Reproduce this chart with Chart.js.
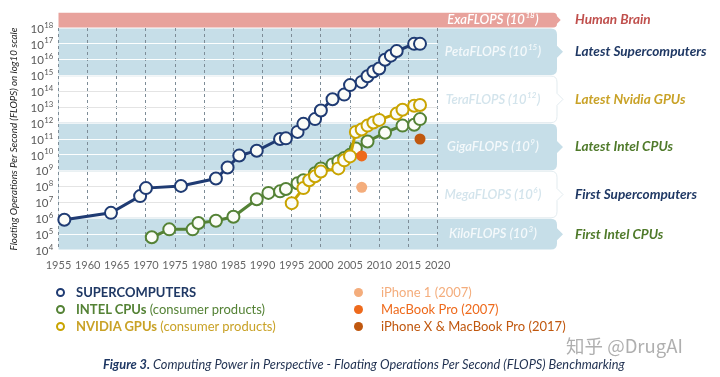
<!DOCTYPE html>
<html><head><meta charset="utf-8">
<script src="https://cdn.jsdelivr.net/npm/chart.js@4.4.0/dist/chart.umd.min.js"></script>
<style>
html,body{margin:0;padding:0;background:#fff;}
#wrap{position:relative;width:720px;height:377px;overflow:hidden;font-family:Lato,"Open Sans",sans-serif;}
canvas{position:absolute;left:0;top:0;}
.t{position:absolute;white-space:nowrap;font-size:13px;line-height:16px;}
.mk{position:absolute;width:5px;height:5px;border-radius:50%;border:2px solid;background:#fff;}
.dot{position:absolute;width:9px;height:9px;border-radius:50%;}
</style></head><body>
<div id="wrap">
<canvas id="c" width="720" height="377"></canvas>
<div id="legend"></div>
<div class="t" style="left:103px;top:356px;font-size:12.8px;font-style:italic;color:#1f3050;"><b style="color:#1f3864">Figure 3.</b> Computing Power in Perspective - Floating Operations Per Second (FLOPS) Benchmarking</div>
<div class="t" style="left:566px;top:333px;font-size:18.5px;line-height:24px;font-family:'Noto Sans CJK SC',sans-serif;color:rgba(110,110,110,0.55);">知乎 @DrugAI</div>
</div>
<script>
// ---- data ----
const superYears = [1956,1964,1969,1970,1976,1982,1984,1986,1989,1993,1994,1996,1997,1999,2000,2002,2004,2005,2007,2008,2009,2010,2011,2012,2013,2016,2017];
const superFlops = [8e5,2.2e6,2.5e7,8e7,1.1e8,3.2e8,1.6e9,9e9,1.8e10,1e11,1.1e11,2.8e11,9e11,1.8e12,6.3e12,3.2e13,6.3e13,2.5e14,4e14,9e14,1.8e15,2.8e15,1e16,1.8e16,3.5e16,1e17,1e17];
const intelYears = [1971,1974,1978,1979,1982,1985,1989,1991,1993,1994,1996,1997,1999,2000,2002,2003,2004,2005,2006,2008,2011,2014,2016,2017];
const intelFlops = [6.3e4,2e5,2e5,5e5,7e5,1.25e6,1.6e7,4e7,5e7,7e7,1.6e8,2.5e8,7e8,1.4e9,2.5e9,4e9,6.3e9,1e10,2.5e10,7e10,2.5e11,7e11,8e11,1.8e12];
const nvidiaYears = [1995,1997,1998,1999,2000,2003,2004,2005,2006,2007,2008,2009,2010,2013,2014,2016,2017];
const nvidiaFlops = [9e6,8e7,2.5e8,4.5e8,9e8,1.4e9,4.5e9,8e9,2.8e11,4e11,7e11,1.1e12,1.6e12,4e12,7e12,1.25e13,1.4e13];
const appleLabels = ['iPhone 1 (2007)','MacBook Pro (2007)','iPhone X & MacBook Pro (2017)'];
const appleYears = [2007,2007,2017];
const appleFlops = [9e7,8.5e9,1e11];
const xTicks = [1955,1960,1965,1970,1975,1980,1985,1990,1995,2000,2005,2010,2015,2020];
const yTickExponents = [4,5,6,7,8,9,10,11,12,13,14,15,16,17,18];
const bandNames = ['ExaFLOPS','PetaFLOPS','TeraFLOPS','GigaFLOPS','MegaFLOPS','KiloFLOPS'];
const bandExponents = [18,15,12,9,6,3];
const bandTopExp = [19,18,15,12,9,6];
const bandBottomExp = [18,15,12,9,6,4];
const rightLabels = ['Human Brain','Latest Supercomputers','Latest Nvidia GPUs','Latest Intel CPUs','First Supercomputers','First Intel CPUs'];
const seriesNames = ['SUPERCOMPUTERS','INTEL CPUs','NVIDIA GPUs'];

// ---- styles ----
const C_SUPER='#1f3b73', C_INTEL='#548235', C_NVIDIA='#c9a400';
const appleColors=['#f4ad7c','#ee6a1c','#c0580f'];
const bandFill=['#e8a29c','#c6dee8','#ffffff','#c6dee8','#ffffff','#c6dee8'];
const bandText=['#ffffff','#f4f9fb','#d3e4ec','#f4f9fb','#d3e4ec','#f4f9fb'];
const rightColors=['#c0504d','#1f3864','#c9a227','#4f7a2a','#1f3864','#4f7a2a'];

// legend html
(function(){
  const lg=document.getElementById('legend');
  const rows=[[seriesNames[0],'',C_SUPER,'#1f3864'],[seriesNames[1],' (consumer products)',C_INTEL,'#548235'],[seriesNames[2],' (consumer products)',C_NVIDIA,'#c9a227']];
  const ys=[292,309,326];
  rows.forEach((r,i)=>{
    lg.insertAdjacentHTML('beforeend',`<div class="mk" style="left:56px;top:${ys[i]-4.5}px;border-color:${r[2]}"></div><div class="t" style="left:76px;top:${ys[i]-8}px;color:${r[3]}"><b>${r[0]}</b>${r[1]}</div>`);
  });
  appleLabels.forEach((l,i)=>{
    lg.insertAdjacentHTML('beforeend',`<div class="dot" style="left:354px;top:${ys[i]-4.5}px;background:${appleColors[i]}"></div><div class="t" style="left:381px;top:${ys[i]-8}px;color:${appleColors[i]}">${l.replace('&','&amp;')}</div>`);
  });
})();

function supText(ctx,base,exp,tail,x,y,size,align){
  ctx.font=`italic 600 ${size}px Lato`;
  const w1=ctx.measureText(base).width;
  const w3=ctx.measureText(tail).width;
  ctx.font=`italic 600 ${size*0.62}px Lato`;
  const w2=ctx.measureText(exp).width;
  const tot=w1+w2+w3+1;
  let sx = align==='center'? x-tot/2 : (align==='right'? x-tot : x);
  ctx.textAlign='left';ctx.textBaseline='middle';
  ctx.font=`italic 600 ${size}px Lato`;
  ctx.fillText(base,sx,y);
  ctx.font=`italic 600 ${size*0.62}px Lato`;
  ctx.fillText(exp,sx+w1+0.5,y-size*0.33);
  ctx.font=`italic 600 ${size}px Lato`;
  ctx.fillText(tail,sx+w1+w2+1,y);
}

function bandPath(ctx,l,t,b,R){
  const h=b-t, r=Math.min(6,h/4), tip=Math.min(6,h/2-r);
  const m=(t+b)/2;
  ctx.beginPath();
  ctx.moveTo(l,b);
  ctx.lineTo(l,t);
  ctx.lineTo(R-r,t);
  ctx.quadraticCurveTo(R,t,R,t+r);
  ctx.lineTo(R,m-tip);
  ctx.lineTo(R+tip,m);
  ctx.lineTo(R,m+tip);
  ctx.lineTo(R,b-r);
  ctx.quadraticCurveTo(R,b,R-r,b);
  ctx.lineTo(l,b);
}

const decor={
  id:'decor',
  beforeDraw(chart){
    const {ctx,chartArea:a,scales:{y}}=chart;
    const R=557;
    ctx.save();
    for(let i=0;i<bandNames.length;i++){
      const t=y.getPixelForValue(Math.pow(10,bandTopExp[i]))+0.5;
      const b=y.getPixelForValue(Math.pow(10,bandBottomExp[i]))-0.5;
      bandPath(ctx,a.left,t,b,R);
      ctx.fillStyle=bandFill[i];ctx.fill();
      if(bandFill[i]==='#ffffff'){ctx.strokeStyle='#e2ebef';ctx.lineWidth=1;ctx.stroke();}
      const m=(t+b)/2;
      ctx.fillStyle=bandText[i];
      supText(ctx,bandNames[i]+' (10',String(bandExponents[i]),')',493,m,13,'center');
      ctx.fillStyle=rightColors[i];
      ctx.font='italic bold 13.6px Lato';ctx.textAlign='left';ctx.textBaseline='middle';
      ctx.fillText(rightLabels[i],575,m);
    }
    ctx.restore();
  },
  afterDraw(chart){
    const {ctx,scales:{y}}=chart;
    ctx.save();
    ctx.fillStyle='#595959';
    yTickExponents.forEach(e=>{
      const py=y.getPixelForValue(Math.pow(10,e));
      const e1=String(e);
      ctx.font='7.8px Lato';const w2=ctx.measureText(e1).width;
      ctx.font='11.5px Lato';const w1=ctx.measureText('10').width;
      const sx=53-w1-w2;
      ctx.textAlign='left';ctx.textBaseline='middle';
      ctx.fillText('10',sx,py+1);
      ctx.font='7.8px Lato';
      ctx.fillText(e1,sx+w1+0.3,py-3);
    });
    ctx.translate(14,139);ctx.rotate(-Math.PI/2);
    ctx.font='italic 9.8px Lato';ctx.fillStyle='#222';ctx.textAlign='center';ctx.textBaseline='middle';
    ctx.fillText('Floating Operations Per Second (FLOPS) on log10 scale',0,0);
    ctx.restore();
  }
};

const pts=(xs,ys)=>xs.map((x,i)=>({x:x,y:ys[i]}));
const lineDs=(label,xs,ys,col)=>({type:'line',label,data:pts(xs,ys),borderColor:col,borderWidth:3,pointRadius:6,pointBorderWidth:2,pointBorderColor:col,pointBackgroundColor:'#fbfcf8',tension:0,clip:false});
const appleDs=appleLabels.map((l,i)=>({type:'line',label:l,data:[{x:appleYears[i],y:appleFlops[i]}],showLine:false,pointRadius:5.5,pointBorderWidth:0,pointBackgroundColor:appleColors[i],order:-1}));

new Chart(document.getElementById('c'),{
  data:{datasets:[lineDs(seriesNames[0],superYears,superFlops,C_SUPER),lineDs(seriesNames[2],nvidiaYears,nvidiaFlops,C_NVIDIA),lineDs(seriesNames[1],intelYears,intelFlops,C_INTEL),...appleDs]},
  options:{
    responsive:false,animation:false,events:[],
    layout:{padding:{left:0,right:282.5,top:28,bottom:107}},
    plugins:{legend:{display:false},tooltip:{enabled:false}},
    scales:{
      x:{type:'linear',min:1955,max:2020,
        afterBuildTicks:s=>{s.ticks=xTicks.map(v=>({value:v}));},
        afterFit:s=>{s.height=20;},
        ticks:{callback:v=>String(v),color:'#666',font:{family:'Lato',size:11},padding:9,maxRotation:0,autoSkip:false},
        grid:{color:'#7d8c97',lineWidth:1,drawTicks:false},
        border:{display:false,dash:[3,3]}},
      y:{type:'logarithmic',min:1e4,max:1e18,
        afterBuildTicks:s=>{s.ticks=yTickExponents.map(e=>({value:Math.pow(10,e)}));},
        afterFit:s=>{s.width=58.5;},
        ticks:{display:false},
        grid:{drawTicks:false,lineWidth:1,color:c=>{const v=c.tick&&c.tick.value;const e=Math.round(Math.log10(v));if([5,10,11,16,17].includes(e))return 'rgba(255,255,255,0.95)';if([7,8,13,14].includes(e))return '#e4e4e4';return 'rgba(0,0,0,0)';}},
        border:{display:false}}
    }
  },
  plugins:[decor]
});
</script>
</body></html>
